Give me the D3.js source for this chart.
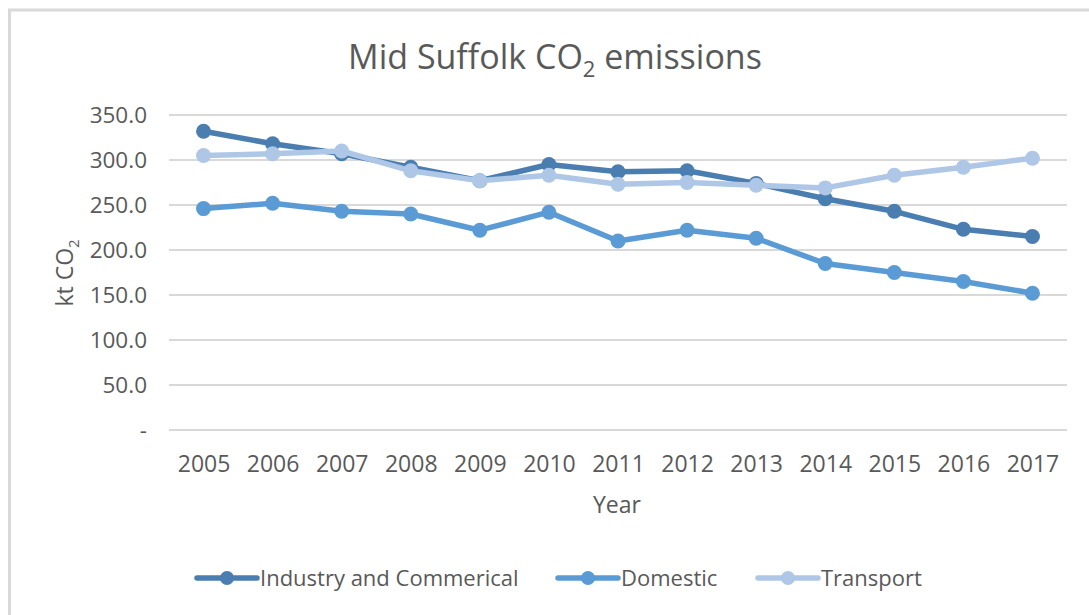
<!DOCTYPE html>
<html>
<head>
<meta charset="utf-8">
<script src="https://cdn.jsdelivr.net/npm/d3@7"></script>
<style>
  body { margin: 0; background: #fff; }
  text { font-family: "Open Sans", sans-serif; fill: #595959; }
</style>
</head>
<body>
<div class="container"></div>
<script>
var years = ['2005', '2006', '2007', '2008', '2009', '2010', '2011', '2012', '2013', '2014', '2015', '2016', '2017'];
var industry = [332, 318, 307, 292, 277, 295, 287, 288, 274, 257, 243, 223, 215];
var domestic = [246, 252, 243, 240, 222, 242, 210, 222, 213, 185, 175, 165, 152];
var transport = [305, 307, 310, 288, 277, 283, 273, 275, 272, 269, 283, 292, 302];
var seriesNames = ['Industry and Commerical', 'Domestic', 'Transport'];
var yTicks = [0, 50, 100, 150, 200, 250, 300, 350];

var drawChart = function () {
    var WIDTH = 1089;
    var HEIGHT = 615;
    var colors = ['#4a7db0', '#5b9bd5', '#aec7e7'];
    var series = [industry, domestic, transport];

    var svg = d3.select('.container')
        .append('svg')
        .attr('width', WIDTH)
        .attr('height', HEIGHT);

    // chart frame
    svg.append('rect')
        .attr('x', 9.5).attr('y', 10)
        .attr('width', 1200).attr('height', 700)
        .attr('fill', 'none')
        .attr('stroke', '#d9d9d9')
        .attr('stroke-width', 3);

    var xScale = d3.scalePoint()
        .domain(years)
        .range([169, 1067])
        .padding(0.5);

    var yScale = d3.scaleLinear()
        .domain([0, 350])
        .range([430, 115]);

    // gridlines
    svg.append('g')
        .selectAll('line')
        .data(yTicks)
        .enter()
        .append('line')
        .attr('x1', 169).attr('x2', 1067)
        .attr('y1', function (d) { return yScale(d); })
        .attr('y2', function (d) { return yScale(d); })
        .attr('stroke', '#d9d9d9')
        .attr('stroke-width', 2);

    // y axis labels
    var yAxis = d3.axisLeft(yScale)
        .tickValues(yTicks)
        .tickSize(0)
        .tickPadding(0)
        .tickFormat(function (d) { return d === 0 ? '-' : d3.format('.1f')(d); });

    var yg = svg.append('g')
        .attr('transform', 'translate(147,0)')
        .call(yAxis);
    yg.select('.domain').remove();
    yg.selectAll('text')
        .style('font-size', '22.5px')
        .attr('fill', '#595959');

    // x axis labels
    var xAxis = d3.axisBottom(xScale).tickSize(0).tickPadding(0);
    var xg = svg.append('g')
        .attr('transform', 'translate(0,456)')
        .call(xAxis);
    xg.select('.domain').remove();
    xg.selectAll('text')
        .style('font-size', '23px')
        .attr('fill', '#595959');

    // title
    var title = svg.append('text')
        .attr('x', 555).attr('y', 69)
        .attr('text-anchor', 'middle')
        .style('font-size', '34px');
    title.append('tspan').text('Mid Suffolk CO');
    title.append('tspan').text('2').attr('dy', 8).style('font-size', '22px');
    title.append('tspan').text(' emissions').attr('dy', -8);

    // axis titles
    var yTitle = svg.append('text')
        .attr('transform', 'translate(73,273) rotate(-90)')
        .attr('text-anchor', 'middle')
        .style('font-size', '23px');
    yTitle.append('tspan').text('kt CO');
    yTitle.append('tspan').text('2').attr('dy', 6).style('font-size', '15px');

    svg.append('text')
        .attr('x', 617).attr('y', 513)
        .attr('text-anchor', 'middle')
        .style('font-size', '23px')
        .text('Year');

    var line = d3.line()
        .x(function (d, i) { return xScale(years[i]); })
        .y(function (d) { return yScale(d); });

    series.forEach(function (s, k) {
        var g = svg.append('g');
        g.append('path')
            .attr('d', line(s))
            .attr('fill', 'none')
            .attr('stroke', colors[k])
            .attr('stroke-width', 5.5)
            .attr('stroke-linejoin', 'round');
        g.selectAll('circle')
            .data(s)
            .enter()
            .append('circle')
            .attr('cx', function (d, i) { return xScale(years[i]); })
            .attr('cy', function (d) { return yScale(d); })
            .attr('r', 7.5)
            .attr('fill', colors[k]);
    });

    // legend
    var legendX = [197, 558, 758];
    seriesNames.forEach(function (name, k) {
        var lg = svg.append('g').attr('transform', 'translate(' + legendX[k] + ',578)');
        lg.append('line')
            .attr('x1', 0).attr('x2', 60)
            .attr('stroke', colors[k])
            .attr('stroke-width', 5.5)
            .attr('stroke-linecap', 'round');
        lg.append('circle')
            .attr('cx', 30).attr('r', 7)
            .attr('fill', colors[k]);
        lg.append('text')
            .attr('x', 63).attr('y', 8)
            .style('font-size', '22px')
            .text(name);
    });
};

window.onload = drawChart;
</script>
</body>
</html>
